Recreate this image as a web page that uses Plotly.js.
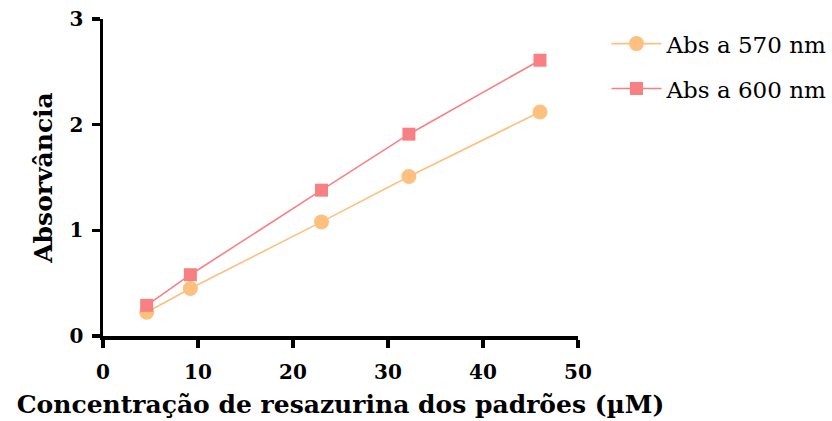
<!DOCTYPE html>
<html>
<head>
<meta charset="utf-8">
<script src="https://cdn.plot.ly/plotly-3.0.1.min.js"></script>
<style>html,body{margin:0;padding:0;background:#fff;}#chart{width:832px;height:421px;}</style>
</head>
<body>
<div id="chart"></div>
<script>
const concentrations = [4.6, 9.2, 23, 32.2, 46];
const abs570 = [0.225, 0.45, 1.08, 1.51, 2.12];
const abs600 = [0.29, 0.58, 1.38, 1.91, 2.61];
const seriesNames = ["Abs a 570 nm", "Abs a 600 nm"];
const xTicks = [0, 10, 20, 30, 40, 50];
const yTicks = [0, 1, 2, 3];

const FONT = "DejaVu Serif, Liberation Serif, serif";

const traces = [
  {x: concentrations, y: abs570, name: seriesNames[0], legendgroup: "g570", type: "scatter", mode: "lines+markers",
   line: {color: "#FDC07E", width: 1.6}, marker: {symbol: "circle", size: 15, color: "#FDC07E"}},
  {x: concentrations, y: abs600, name: seriesNames[1], legendgroup: "g600", type: "scatter", mode: "lines+markers",
   line: {color: "#F98082", width: 1.6}, marker: {symbol: "square", size: 13, color: "#F98082"}}
];

const axisCommon = {
  showline: true, linecolor: "#000", linewidth: 3.5,
  ticks: "outside", ticklen: 8, tickwidth: 3.5, tickcolor: "#000",
  showgrid: false, zeroline: false,
  tickfont: {family: FONT, size: 20, color: "#000", weight: "bold"}
};

const layout = {
  width: 832, height: 421,
  margin: {l: 103, r: 254, t: 19, b: 85, autoexpand: false},
  paper_bgcolor: "#fff", plot_bgcolor: "#fff",
  font: {family: FONT, color: "#000"},
  xaxis: Object.assign({}, axisCommon, {
    range: [0, 50], tickvals: xTicks, ticktext: xTicks.map(String),
    ticklabelstandoff: 7,
    title: {text: "Concentração de resazurina dos padrões (µM)", font: {family: FONT, size: 25, color: "#000", weight: "bold"}, standoff: 14}
  }),
  yaxis: Object.assign({}, axisCommon, {
    range: [0, 3], tickvals: yTicks, ticktext: yTicks.map(String),
    ticklabelstandoff: 4,
    title: {text: "Absorvância", font: {family: FONT, size: 25, color: "#000", weight: "bold"}, standoff: 11}
  }),
  legend: {x: 1.06, y: 0.99, xanchor: "left", yanchor: "top",
    font: {family: FONT, size: 23, color: "#000"}, tracegroupgap: 12, itemwidth: 50, bgcolor: "rgba(0,0,0,0)"},
  showlegend: true
};

Plotly.newPlot("chart", traces, layout, {displayModeBar: false, staticPlot: true});
</script>
</body>
</html>
